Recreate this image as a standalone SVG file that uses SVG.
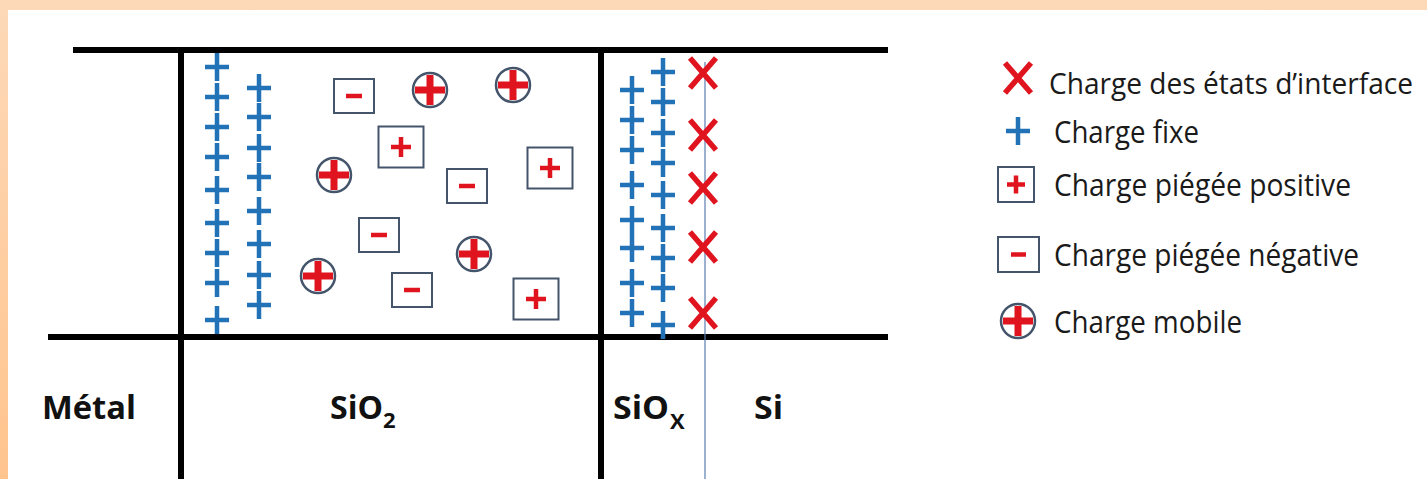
<svg xmlns="http://www.w3.org/2000/svg" xmlns:xlink="http://www.w3.org/1999/xlink" width="1427" height="479" viewBox="0 0 1427 479">
<defs>
<linearGradient id="bg" x1="0" y1="0" x2="0" y2="1">
<stop offset="0" stop-color="#FDD9B8"/>
<stop offset="1" stop-color="#FFC48E"/>
</linearGradient>
<style>
.wall{stroke:#000;stroke-width:6;fill:none}
.bp{stroke:#2272B8;stroke-width:4.5;fill:none}
.rx{stroke:#E0141E;stroke-width:5.5;fill:none}
.rp{stroke:#E0141E;stroke-width:4.5;fill:none}
.rm{stroke:#E0141E;stroke-width:7;fill:none}
.bx{stroke:#44546A;stroke-width:2;fill:#fff}
.lbl{font-family:"Open Sans","Liberation Sans",sans-serif;font-weight:bold;font-size:33px;fill:#111}
.sub{font-family:"Open Sans","Liberation Sans",sans-serif;font-weight:bold;font-size:22px;fill:#111}
.leg{font-family:"Open Sans","Liberation Sans",sans-serif;font-size:31px;fill:#1a1a1a}
</style>
<g id="plus"><path class="bp" d="M-12 0H12M0-14V14"/></g>
<g id="cross"><path class="rx" d="M-13-15L13 15M13-15L-13 15"/></g>
<g id="boxp"><rect class="bx" x="-22.5" y="-20.5" width="45" height="41"/><path class="rp" d="M-10 0H10M0-10V10"/></g>
<g id="boxm"><rect class="bx" x="-20" y="-17" width="40" height="34"/><path class="rp" d="M-8 0H8"/></g>
<g id="mob"><circle cx="0" cy="0" r="17" stroke="#44546A" stroke-width="2.5" fill="#fff"/><path class="rm" d="M-15 0H15M0-15V15"/></g>
</defs>
<rect x="0" y="0" width="1427" height="479" fill="url(#bg)"/>
<rect x="8" y="10" width="1419" height="469" fill="#fff"/>

<g id="connectors">
<path class="wall" d="M73 50H888M48 337H888M181 47V479M601 47V479"/>
<path d="M705 62V479" stroke="#5B7DB1" stroke-width="1.2" fill="none"/>
</g>

<g id="fixed-sio2">
<use href="#plus" x="217" y="67"/><use href="#plus" x="217" y="97"/><use href="#plus" x="217" y="127"/>
<use href="#plus" x="217" y="157"/><use href="#plus" x="217" y="190"/><use href="#plus" x="217" y="223"/>
<use href="#plus" x="217" y="253"/><use href="#plus" x="217" y="283"/><use href="#plus" x="217" y="320"/>
<use href="#plus" x="259" y="88"/><use href="#plus" x="259" y="117"/><use href="#plus" x="259" y="148"/>
<use href="#plus" x="259" y="177"/><use href="#plus" x="259" y="211"/><use href="#plus" x="259" y="244"/>
<use href="#plus" x="259" y="275"/><use href="#plus" x="259" y="305"/>
</g>

<g id="trapped">
<use href="#boxm" x="354" y="96"/><use href="#boxm" x="379" y="235"/><use href="#boxm" x="412" y="290"/><use href="#boxm" x="467" y="186"/>
<use href="#boxp" x="401" y="147"/><use href="#boxp" x="550" y="168"/><use href="#boxp" x="536" y="299"/>
</g>

<g id="mobile">
<use href="#mob" x="334" y="175"/><use href="#mob" x="318" y="276"/><use href="#mob" x="430" y="90"/>
<use href="#mob" x="513" y="85"/><use href="#mob" x="474" y="254"/>
</g>

<g id="fixed-siox">
<use href="#plus" x="632" y="90"/><use href="#plus" x="632" y="120"/><use href="#plus" x="632" y="150"/>
<use href="#plus" x="632" y="185"/><use href="#plus" x="632" y="220"/><use href="#plus" x="632" y="248"/>
<use href="#plus" x="632" y="283"/><use href="#plus" x="632" y="313"/>
<use href="#plus" x="663" y="72"/><use href="#plus" x="663" y="102"/><use href="#plus" x="663" y="133"/>
<use href="#plus" x="663" y="163"/><use href="#plus" x="663" y="195"/><use href="#plus" x="663" y="228"/>
<use href="#plus" x="663" y="258"/><use href="#plus" x="663" y="288"/><use href="#plus" x="663" y="325"/>
</g>

<g id="interface-states">
<use href="#cross" x="703" y="73"/><use href="#cross" x="703" y="135"/><use href="#cross" x="703" y="188"/>
<use href="#cross" x="703" y="247"/><use href="#cross" x="703" y="313"/>
</g>

<g id="labels">
<text class="lbl" x="42" y="419" textLength="94" lengthAdjust="spacingAndGlyphs">Métal</text>
<text class="lbl" x="330" y="419" textLength="53" lengthAdjust="spacingAndGlyphs">SiO</text>
<text class="sub" x="383" y="428">2</text>
<text class="lbl" x="613" y="419" textLength="56" lengthAdjust="spacingAndGlyphs">SiO</text>
<text class="sub" x="670" y="429">X</text>
<text class="lbl" x="754" y="419" textLength="29" lengthAdjust="spacingAndGlyphs">Si</text>
</g>

<g id="legend">
<g id="leg-interface"><use href="#cross" x="1018" y="78"/>
<text class="leg" x="1049" y="94" style="font-size:29px" textLength="364" lengthAdjust="spacingAndGlyphs">Charge des états d’interface</text></g>
<g id="leg-fixe"><use href="#plus" x="1018" y="131"/>
<text class="leg" x="1054" y="143" textLength="145" lengthAdjust="spacingAndGlyphs">Charge fixe</text></g>
<g id="leg-pos"><rect class="bx" x="998" y="167" width="36" height="35"/><path class="rp" d="M1007 184.5H1025M1016 175.5V193.5"/>
<text class="leg" x="1054" y="196" textLength="297" lengthAdjust="spacingAndGlyphs">Charge piégée positive</text></g>
<g id="leg-neg"><rect class="bx" x="998" y="237" width="41" height="35"/><path class="rp" d="M1011 254.5H1026"/>
<text class="leg" x="1054" y="266" textLength="305" lengthAdjust="spacingAndGlyphs">Charge piégée négative</text></g>
<g id="leg-mob"><use href="#mob" x="1018" y="321"/>
<text class="leg" x="1054" y="333" textLength="188" lengthAdjust="spacingAndGlyphs">Charge mobile</text></g>
</g>
</svg>
